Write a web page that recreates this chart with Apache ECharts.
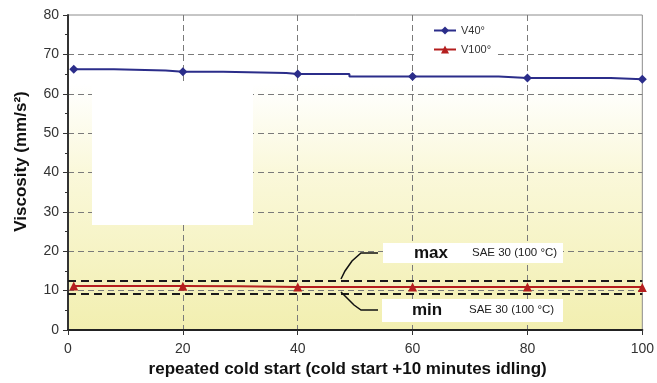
<!DOCTYPE html>
<html>
<head>
<meta charset="utf-8">
<script src="https://cdn.jsdelivr.net/npm/echarts@6/dist/echarts.min.js"></script>
<style>
  html, body { margin: 0; padding: 0; background: #ffffff; }
  #chart { width: 657px; height: 383px; }
</style>
</head>
<body>
<div id="chart"></div>
<script>
// ---- data ----
const xTicks = [0, 20, 40, 60, 80, 100];
const yTicks = [0, 10, 20, 30, 40, 50, 60, 70, 80];
const measuredX = [1, 20, 40, 60, 80, 100];          // points carrying a marker

const v40X = [1, 8, 17, 20, 27, 38, 40, 49, 60, 75, 80, 94.5, 100];
const v40Y = [66.2, 65.9, 65.6, 65.6, 65.3, 65.0, 65.0, 64.4, 64.4, 64.0, 64.0, 63.7, 63.7];

const v100X = [1, 20, 30, 40, 60, 80, 100];
const v100Y = [11.2, 11.1, 10.9, 10.9, 10.9, 10.9, 10.8];

const limitMax = 12.5;   // SAE 30 (100 °C) max
const limitMin = 9.3;    // SAE 30 (100 °C) min

const seriesNames = ['V40°', 'V100°'];
const xTitle = 'repeated cold start (cold start +10 minutes idling)';
const yTitle = 'Viscosity (mm/s²)';
const noteMax = 'max', noteMin = 'min', noteSae = 'SAE 30 (100 °C)';

// ---- chart ----
const FONT = 'Liberation Sans, Arial, sans-serif';
function pts(xs, ys) {
  return xs.map((x, i) => {
    const d = { value: [x, ys[i]] };
    if (measuredX.indexOf(x) < 0) d.symbol = 'none';
    return d;
  });
}

const chart = echarts.init(document.getElementById('chart'), null, { renderer: 'canvas' });
const option = {
  animation: false,
  backgroundColor: '#ffffff',
  grid: {
    left: 68, right: 12, top: 15, bottom: 53,
    show: true,
    borderColor: '#8c8c8c', borderWidth: 1,
    backgroundColor: {
      type: 'linear', x: 0, y: 0, x2: 0, y2: 1,
      colorStops: [
        { offset: 0, color: '#ffffff' },
        { offset: 0.22, color: '#ffffff' },
        { offset: 0.5, color: '#faf8da' },
        { offset: 1, color: '#f2efb0' }
      ]
    }
  },
  xAxis: {
    type: 'value', min: xTicks[0], max: xTicks[xTicks.length - 1], interval: 20,
    name: xTitle, nameLocation: 'middle', nameGap: 30,
    nameTextStyle: { fontFamily: FONT, fontSize: 17, fontWeight: 'bold', color: '#111', padding: [0, 15, 0, 0] },
    axisLine: { show: true, onZero: false, lineStyle: { color: '#222', width: 2 } },
    axisTick: { show: true, length: 5, lineStyle: { color: '#333' } },
    axisLabel: { fontFamily: FONT, fontSize: 14, color: '#333', margin: 12 },
    splitLine: { show: true, showMinLine: false, showMaxLine: false,
      lineStyle: { color: '#7a7a7a', type: [6, 4], width: 1 } }
  },
  yAxis: {
    type: 'value', min: yTicks[0], max: yTicks[yTicks.length - 1], interval: 10,
    name: yTitle, nameLocation: 'middle', nameGap: 38,
    nameTextStyle: { fontFamily: FONT, fontSize: 17, fontWeight: 'bold', color: '#111', padding: [0, 0, 0, 22] },
    axisLine: { show: true, lineStyle: { color: '#333', width: 2 } },
    axisTick: { show: true, length: 5, lineStyle: { color: '#333' } },
    minorTick: { show: true, splitNumber: 2, length: 3, lineStyle: { color: '#333' } },
    axisLabel: { fontFamily: FONT, fontSize: 14, color: '#333', margin: 9 },
    splitLine: { show: true, showMinLine: false, showMaxLine: false,
      lineStyle: { color: '#7a7a7a', type: [6, 4], width: 1 } }
  },
  legend: {
    orient: 'vertical', left: 417, top: 20,
    backgroundColor: '#ffffff',
    padding: [5, 4, 5, 16],
    itemWidth: 22, itemHeight: 10, itemGap: 8,
    textStyle: { fontFamily: FONT, fontSize: 11, color: '#333' },
    data: seriesNames
  },
  series: [
    {
      name: seriesNames[0], type: 'line', step: 'end',
      data: pts(v40X, v40Y),
      symbol: 'diamond', symbolSize: 9, showAllSymbol: true,
      color: '#2b2d8a',
      lineStyle: { color: '#2b2d8a', width: 2 },
      itemStyle: { color: '#2b2d8a' },
      z: 3
    },
    {
      name: seriesNames[1], type: 'line', step: 'end',
      data: pts(v100X, v100Y),
      symbol: 'triangle', symbolSize: 9, showAllSymbol: true,
      color: '#b41e1e',
      lineStyle: { color: '#b41e1e', width: 2 },
      itemStyle: { color: '#b41e1e' },
      z: 3,
      markLine: {
        silent: true, symbol: 'none',
        label: { show: false },
        lineStyle: { color: '#1a1a1a', type: [8, 5], width: 2 },
        data: [{ yAxis: limitMax }, { yAxis: limitMin }],
        z: 2
      }
    }
  ],
  graphic: [
    // white masking box in the upper left of the plot
    { type: 'rect', shape: { x: 92, y: 83, width: 161, height: 142 }, style: { fill: '#ffffff' }, z: 50 },
    // max note
    { type: 'rect', shape: { x: 383, y: 243, width: 180, height: 20 }, style: { fill: '#ffffff' }, z: 50 },
    { type: 'text', x: 414, y: 253, style: { text: noteMax, font: 'bold 17px ' + FONT, fill: '#111', textVerticalAlign: 'middle', verticalAlign: 'middle' }, z: 51 },
    { type: 'text', x: 472, y: 253, style: { text: noteSae, font: '11.5px ' + FONT, fill: '#222', textVerticalAlign: 'middle', verticalAlign: 'middle' }, z: 51 },
    // min note
    { type: 'rect', shape: { x: 382, y: 299, width: 181, height: 23 }, style: { fill: '#ffffff' }, z: 50 },
    { type: 'text', x: 412, y: 310, style: { text: noteMin, font: 'bold 17px ' + FONT, fill: '#111', textVerticalAlign: 'middle', verticalAlign: 'middle' }, z: 51 },
    { type: 'text', x: 469, y: 310, style: { text: noteSae, font: '11.5px ' + FONT, fill: '#222', textVerticalAlign: 'middle', verticalAlign: 'middle' }, z: 51 },
    // bracket connectors
    { type: 'polyline', shape: { points: [[378, 253], [361, 253], [352, 261], [345, 271], [341, 279]] },
      style: { stroke: '#111', lineWidth: 1.5, fill: null }, z: 51 },
    { type: 'polyline', shape: { points: [[341, 292], [347, 298], [354, 305], [361, 310], [378, 310]] },
      style: { stroke: '#111', lineWidth: 1.5, fill: null }, z: 51 }
  ]
};
chart.setOption(option);
</script>
</body>
</html>
